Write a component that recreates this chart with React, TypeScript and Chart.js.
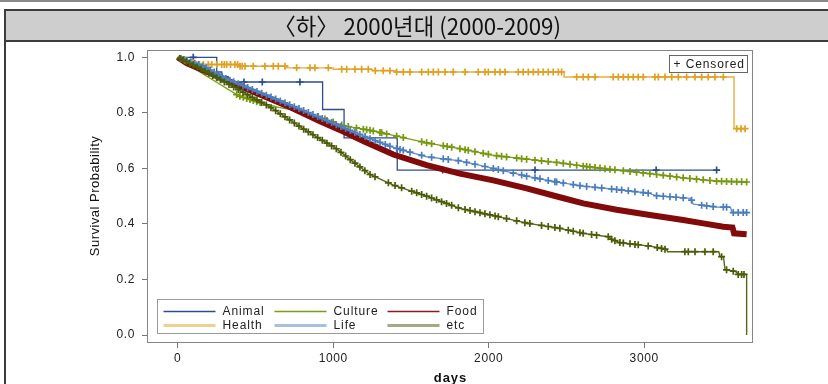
import React, { useEffect, useRef } from "react";
import { Chart, registerables } from "chart.js";

Chart.register(...registerables);

type Pt = [number, number];

const titleText = "〈하〉 2000년대 (2000-2009)";
const seriesLabels = ["Animal", "Culture", "Food", "Health", "Life", "etc"];
const yTickValues = [0, 0.2, 0.4, 0.6, 0.8, 1.0];
const xTickValues = [0, 1000, 2000, 3000];

// Kaplan-Meier curves: [days, survival probability]
const animalCurve: Pt[] = [
  [0, 1.0], [251, 0.947], [283, 0.93], [325, 0.911], [932, 0.812],
  [1070, 0.71], [1412, 0.594], [3488, 0.594],
];
const cultureCurve: Pt[] = [
  [0, 1.0], [100, 0.962], [250, 0.91], [390, 0.862], [508, 0.84], [650, 0.82],
  [840, 0.8], [1065, 0.754], [1237, 0.737], [1387, 0.719], [1601, 0.692],
  [1815, 0.671], [2030, 0.647], [2244, 0.633], [2458, 0.62], [2608, 0.608],
  [2823, 0.594], [3037, 0.581], [3251, 0.566], [3466, 0.554], [3659, 0.551],
];
const foodCurve: Pt[] = [
  [0, 1.0], [60, 0.978], [272, 0.928], [486, 0.876], [701, 0.826], [915, 0.77],
  [1065, 0.733], [1200, 0.697], [1387, 0.65], [1601, 0.612], [1815, 0.581],
  [2030, 0.557], [2244, 0.528], [2458, 0.496], [2608, 0.474], [2823, 0.451],
  [3037, 0.432], [3251, 0.414], [3380, 0.402], [3509, 0.39], [3568, 0.387],
  [3578, 0.366], [3659, 0.363],
];
const healthCurve: Pt[] = [
  [0, 1.0], [15, 0.99], [50, 0.98], [110, 0.974], [400, 0.968], [700, 0.962],
  [1000, 0.957], [1250, 0.952], [1400, 0.947], [2485, 0.929], [3578, 0.743],
  [3660, 0.743],
];
const lifeCurve: Pt[] = [
  [0, 1.0], [165, 0.968], [323, 0.92], [594, 0.858], [808, 0.809], [1022, 0.757],
  [1237, 0.707], [1387, 0.675], [1601, 0.642], [1815, 0.627], [2030, 0.6],
  [2244, 0.572], [2394, 0.555], [2608, 0.536], [2823, 0.524], [3037, 0.51],
  [3070, 0.502], [3300, 0.492], [3316, 0.471], [3466, 0.461], [3555, 0.46],
  [3565, 0.441], [3659, 0.441],
];
const etcCurve: Pt[] = [
  [0, 1.0], [165, 0.953], [379, 0.887], [594, 0.821], [808, 0.742], [1022, 0.67],
  [1120, 0.627], [1237, 0.578], [1387, 0.54], [1601, 0.5], [1815, 0.456],
  [2030, 0.43], [2244, 0.403], [2458, 0.384], [2608, 0.366], [2769, 0.354],
  [2790, 0.345], [2840, 0.333], [3037, 0.32], [3145, 0.308], [3150, 0.3],
  [3480, 0.3], [3488, 0.282], [3510, 0.282], [3520, 0.236], [3590, 0.228],
  [3605, 0.218], [3659, 0.218], [3659, 0.0],
];

// Censoring times (days)
const animalCensored = [100, 426, 544, 786, 1704, 2298, 3077, 3466];
const cultureCensored = [
  379, 400, 422, 444, 465, 486, 508, 530, 904, 947, 1000, 1055, 1097, 1150, 1194,
  1215, 1237, 1258, 1301, 1312, 1344, 1408, 1451, 1569, 1601, 1633, 1708, 1733,
  1762, 1815, 1848, 1869, 1912, 1965, 1998, 2051, 2083, 2115, 2180, 2212, 2244,
  2298, 2340, 2383, 2437, 2480, 2523, 2566, 2608, 2630, 2651, 2684, 2716, 2748,
  2780, 2812, 2866, 2909, 2951, 2994, 3037, 3080, 3123, 3166, 3209, 3251, 3294,
  3337, 3380, 3423, 3466, 3498, 3530, 3562, 3595, 3627, 3659,
];
const healthCensored = [
  47, 79, 100, 122, 140, 165, 197, 219, 251, 283, 300, 315, 340, 368, 385, 401,
  415, 433, 486, 561, 615, 647, 690, 765, 851, 883, 969, 1055, 1087, 1140, 1183,
  1226, 1270, 1322, 1365, 1408, 1451, 1494, 1569, 1612, 1644, 1676, 1719, 1772,
  1848, 1933, 1976, 1998, 2041, 2073, 2105, 2190, 2222, 2255, 2287, 2319, 2351,
  2383, 2415, 2448, 2469, 2566, 2608, 2641, 2684, 2801, 2834, 2866, 2898, 2930,
  2962, 2994, 3069, 3091, 3134, 3177, 3220, 3273, 3327, 3370, 3412, 3455, 3509,
  3595, 3623, 3649,
];
const lifeCensored = [
  20, 40, 60, 85, 110, 135, 160, 185, 210, 235, 260, 285, 310, 335, 360, 390, 420,
  450, 480, 510, 540, 570, 600, 630, 660, 690, 720, 750, 780, 810, 840, 870, 900,
  930, 960, 990, 1020, 1050, 1080, 1110, 1140, 1172, 1205, 1237, 1270, 1301, 1335,
  1365, 1408, 1430, 1451, 1494, 1569, 1633, 1708, 1740, 1805, 1858, 1912, 1976,
  2030, 2062, 2094, 2158, 2212, 2244, 2298, 2330, 2383, 2426, 2437, 2480, 2544,
  2587, 2630, 2684, 2727, 2791, 2823, 2855, 2898, 2941, 2994, 3026, 3080, 3123,
  3166, 3205, 3251, 3305, 3370, 3402, 3444, 3509, 3530, 3573, 3605, 3637, 3659,
];
const etcCensored = [
  15, 35, 55, 75, 100, 125, 150, 175, 200, 225, 250, 275, 300, 330, 360, 390, 420,
  450, 480, 510, 540, 570, 600, 630, 660, 690, 720, 750, 780, 810, 840, 870, 900,
  930, 960, 990, 1020, 1050, 1080, 1110, 1140, 1172, 1204, 1237, 1269, 1355, 1398,
  1440, 1505, 1537, 1569, 1601, 1633, 1665, 1697, 1729, 1762, 1805, 1848, 1880,
  1912, 1944, 1976, 2008, 2041, 2062, 2115, 2180, 2233, 2265, 2340, 2383, 2426,
  2458, 2512, 2544, 2587, 2608, 2662, 2694, 2769, 2791, 2812, 2844, 2866, 2909,
  2941, 2962, 3026, 3084, 3112, 3134, 3262, 3284, 3327, 3391, 3444, 3498, 3530,
  3573, 3605, 3627, 3642,
];
const foodCensored: number[] = [];

function curveValueAt(curve: Pt[], t: number, stepped: boolean): number {
  if (stepped) {
    let v = curve[0][1];
    for (const [d, s] of curve) {
      if (d <= t) v = s;
      else break;
    }
    return v;
  }
  for (let i = 0; i < curve.length - 1; i++) {
    const [x0, y0] = curve[i];
    const [x1, y1] = curve[i + 1];
    if (t >= x0 && t <= x1 && x1 > x0) return y0 + ((y1 - y0) * (t - x0)) / (x1 - x0);
  }
  return curve[curve.length - 1][1];
}

const FONT = "'Liberation Sans', Arial, sans-serif";

export default function App() {
  const ref = useRef<HTMLCanvasElement>(null);

  useEffect(() => {
    const canvas = ref.current;
    if (!canvas) return;

    const series = [
      { label: seriesLabels[0], curve: animalCurve, cens: animalCensored, stepped: true, line: "#2c4d8e", mark: "#2c4d8e", width: 1.3, order: 60, legend: "#2c4d8e", lw: 1.5 },
      { label: seriesLabels[1], curve: cultureCurve, cens: cultureCensored, stepped: false, line: "#7c9c16", mark: "#76980c", width: 1.3, order: 50, legend: "#7c9c16", lw: 1.5 },
      { label: seriesLabels[2], curve: foodCurve, cens: foodCensored, stepped: false, line: "#820a0a", mark: "#820a0a", width: 6, order: 40, legend: "#8b1a1a", lw: 1.5 },
      { label: seriesLabels[3], curve: healthCurve, cens: healthCensored, stepped: true, line: "#e6ae45", mark: "#e0a020", width: 1.4, order: 30, legend: "#eed28c", lw: 3 },
      { label: seriesLabels[4], curve: lifeCurve, cens: lifeCensored, stepped: false, line: "#6a93cf", mark: "#4a7ebb", width: 1.4, order: 20, legend: "#a8c0e0", lw: 3 },
      { label: seriesLabels[5], curve: etcCurve, cens: etcCensored, stepped: false, line: "#56661a", mark: "#4b5c06", width: 1.4, order: 10, legend: "#a4a985", lw: 3 },
    ];

    const datasets: any[] = [];
    series.forEach((s) => {
      datasets.push({
        type: "line",
        label: s.label,
        data: s.curve.map(([x, y]) => ({ x, y })),
        stepped: s.stepped ? "before" : false,
        borderColor: s.line,
        borderWidth: s.width,
        pointRadius: 0,
        fill: false,
        tension: 0,
        order: s.order,
      });
      datasets.push({
        type: "line",
        label: s.label + " censored",
        data: s.cens.map((t) => ({ x: t, y: curveValueAt(s.curve, t, s.stepped) })),
        showLine: false,
        pointStyle: "cross",
        pointRadius: 3.5,
        pointBorderWidth: 1.7,
        pointBorderColor: s.mark,
        pointBackgroundColor: s.mark,
        order: s.order - 1,
      });
    });

    const decor = {
      id: "decor",
      beforeDraw(chart: any) {
        (chart.ctx as any).letterSpacing = "0.6px";
      },
      afterDraw(chart: any) {
        const ctx = chart.ctx as CanvasRenderingContext2D;
        const a = chart.chartArea;
        ctx.save();
        // plot frame
        ctx.strokeStyle = "#858585";
        ctx.lineWidth = 1;
        ctx.strokeRect(a.left - 0.5, a.top + 0.5, a.right - a.left, a.bottom - a.top);

        // axis titles
        ctx.fillStyle = "#111";
        (ctx as any).letterSpacing = "0.5px";
        ctx.font = `13px ${FONT}`;
        ctx.textAlign = "center";
        ctx.textBaseline = "middle";
        ctx.save();
        ctx.translate(95, (a.top + a.bottom) / 2);
        ctx.rotate(-Math.PI / 2);
        ctx.fillText("Survival Probability", 0, 0);
        ctx.restore();
        ctx.font = `bold 13px ${FONT}`;
        (ctx as any).letterSpacing = "1px";
        ctx.fillText("days", (a.left + a.right) / 2, 378);

        // group legend
        const bx = a.left + 9.5;
        const by = a.bottom - 42.5;
        const bw = 326;
        const bh = 34;
        ctx.fillStyle = "#fff";
        ctx.fillRect(bx, by, bw, bh);
        ctx.strokeStyle = "#9a9a9a";
        ctx.lineWidth = 1;
        ctx.strokeRect(bx, by, bw, bh);
        ctx.font = `12px ${FONT}`;
        (ctx as any).letterSpacing = "0.9px";
        ctx.textAlign = "left";
        ctx.textBaseline = "middle";
        const colX = [bx + 6, bx + 117, bx + 230];
        series.forEach((s, i) => {
          const col = i % 3;
          const row = Math.floor(i / 3);
          const y = by + 12 + row * 14;
          ctx.strokeStyle = s.legend;
          ctx.lineWidth = s.lw;
          ctx.beginPath();
          ctx.moveTo(colX[col], y);
          ctx.lineTo(colX[col] + 52, y);
          ctx.stroke();
          ctx.fillStyle = "#222";
          ctx.fillText(s.label, colX[col] + 59, y + 0.5);
        });

        // censored legend
        const cx = a.right - 83.5;
        const cy = a.top + 5.5;
        ctx.fillStyle = "#fff";
        ctx.fillRect(cx, cy, 78, 17);
        ctx.strokeStyle = "#666";
        ctx.lineWidth = 1;
        ctx.strokeRect(cx, cy, 78, 17);
        ctx.fillStyle = "#222";
        ctx.fillText("+ Censored", cx + 4, cy + 9);
        ctx.restore();
      },
    };

    const tickFont = { family: FONT, size: 12 };

    const chart = new Chart(canvas, {
      type: "line",
      data: { datasets },
      options: {
        animation: false,
        responsive: false,
        events: [],
        layout: { padding: { left: 0, right: 75, top: 50, bottom: 0 } },
        plugins: { legend: { display: false }, tooltip: { enabled: false } },
        scales: {
          x: {
            type: "linear",
            min: -191,
            max: 3700,
            afterBuildTicks: (s: any) => {
              s.ticks = xTickValues.map((v) => ({ value: v }));
            },
            afterFit: (s: any) => {
              s.height = 42;
            },
            grid: { drawOnChartArea: false, drawTicks: true, tickLength: 6, color: "#777" },
            border: { display: false },
            ticks: { font: tickFont, color: "#222", padding: 3, maxRotation: 0, autoSkip: false, callback: (v: any) => String(v) },
          },
          y: {
            type: "linear",
            min: -0.0252,
            max: 1.0263,
            afterBuildTicks: (s: any) => {
              s.ticks = yTickValues.map((v) => ({ value: v }));
            },
            afterFit: (s: any) => {
              s.width = 148;
            },
            grid: { drawOnChartArea: false, drawTicks: true, tickLength: 6, color: "#777" },
            border: { display: false },
            ticks: { font: tickFont, color: "#222", padding: 7, autoSkip: false, callback: (v: any) => Number(v).toFixed(1) },
          },
        },
      } as any,
      plugins: [decor as any],
    });

    return () => chart.destroy();
  }, []);

  return (
    <div style={{ position: "absolute", left: 0, top: 0, width: 828, height: 384, background: "#fff", overflow: "hidden" }}>
      <div style={{ position: "absolute", left: 0, top: 0, width: 828, height: 2, background: "#8a8a8a" }} />
      <canvas ref={ref} width={828} height={384} style={{ position: "absolute", left: 0, top: 0 }} />
      <div
        style={{
          position: "absolute",
          left: 4,
          top: 9,
          width: 824,
          height: 33,
          boxSizing: "border-box",
          background: "#cecece",
          borderTop: "2px solid #3c3c3c",
          borderBottom: "2px solid #3c3c3c",
          borderLeft: "2px solid #3c3c3c",
          display: "flex",
          alignItems: "center",
          justifyContent: "center",
          fontFamily: "'Noto Sans CJK KR', sans-serif",
          fontSize: 23,
          lineHeight: "29px",
          color: "#111",
          whiteSpace: "nowrap",
        }}
      >
        <span style={{ display: "inline-block", transform: "scaleX(0.97)" }}>{titleText}</span>
      </div>
      <div style={{ position: "absolute", left: 4, top: 40, width: 2, height: 344, background: "#3c3c3c" }} />
    </div>
  );
}
